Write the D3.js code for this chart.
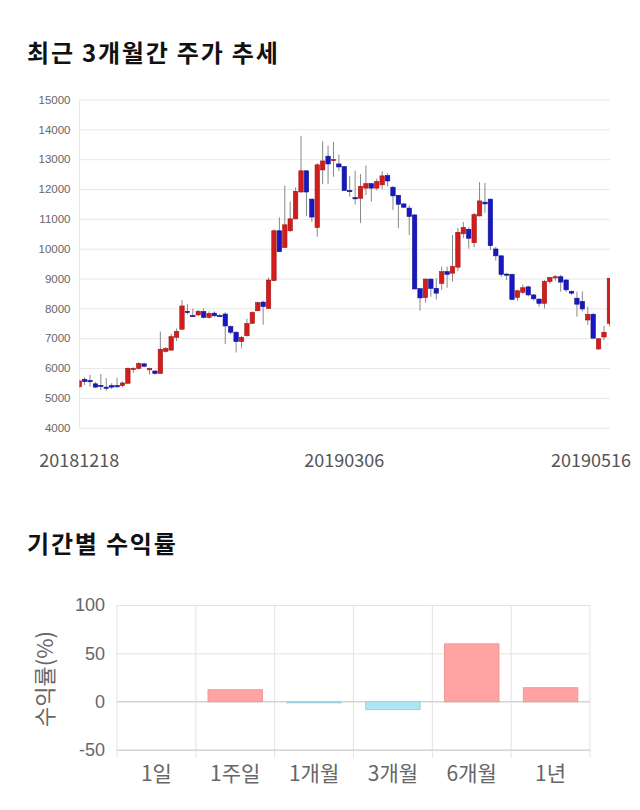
<!DOCTYPE html>
<html><head><meta charset="utf-8">
<script src="https://cdn.jsdelivr.net/npm/d3@7"></script>
<style>
body{margin:0;background:#fff;}
svg{display:block;}
</style></head>
<body>
<svg id="c" width="640" height="810"></svg>
<script>
// ---- candlestick data (20181218 .. 20190516, 99 trading days) ----
const opens  = [5370,5620,5580,5470,5420,5360,5410,5410,5410,5490,5990,5990,6140,5960,5900,5820,6560,6600,7030,7300,
  7900,7760,7780,7890,7700,7840,7760,7810,7390,7200,6890,7080,7500,7920,8210,8000,8930,10600,10040,10600,
  11000,11900,12610,11660,10710,12640,13100,12960,12840,12750,11950,11710,11690,12030,12180,12030,12140,12450,12060,11790,
  11500,11360,11130,8660,8360,8980,8670,8840,9230,9180,9380,10500,10650,10200,11100,11560,11660,9990,9760,9150,
  9140,8370,8540,8720,8450,8310,8170,8900,9040,9060,8950,8570,8340,8230,7610,7800,6640,7040,7500];
const highs  = [5620,5690,5770,5530,5800,5660,5490,5670,5550,6020,6030,6200,6180,6010,5920,7220,6700,7150,7320,8280,
  8140,8000,7950,8000,7900,7900,7810,7870,7430,7230,7080,7650,7900,8220,8250,9040,10650,11050,12120,11580,
  12050,13780,12620,11680,12860,13600,13450,13580,13150,12770,12440,12610,12500,12790,12200,12350,12600,12530,12100,11800,
  11520,11450,11160,8670,9010,9000,9010,9400,9400,10460,10700,10900,10720,11200,12230,12200,11680,10060,9780,9180,
  9160,8620,8800,8760,8480,8330,8950,9060,9120,9120,8980,8600,8560,8570,8060,7850,7010,7410,9010];
const lows   = [5340,5430,5380,5340,5260,5240,5300,5340,5360,5470,5840,5950,6020,5780,5780,5810,6520,6580,6900,7280,
  7800,7720,7740,7660,7650,7720,7730,6800,7130,6520,6680,7060,7480,7900,7450,7990,8920,9890,10020,10560,
  10990,11880,11100,10900,10400,12160,12170,12410,12600,11940,11740,11480,10860,11800,11580,11950,11990,12080,11300,10690,
  11360,10460,8640,7920,8190,8390,8300,8620,8690,8900,9250,10350,10000,10050,11080,11200,9950,9600,9050,8950,
  8270,8250,8480,8400,8260,8050,8000,8820,8920,8560,8550,8450,7720,7900,7440,6990,6600,6940,7400];
const closes = [5570,5550,5560,5360,5400,5350,5360,5400,5500,5990,5990,6150,6060,5980,5820,6630,6650,7050,7230,8080,
  7890,7745,7900,7700,7830,7750,7750,7410,7200,6890,7030,7490,7860,8190,8060,8950,10600,9900,10800,11000,
  11920,12610,11900,11060,12810,12940,12840,12990,12740,11950,11940,11700,12090,12180,12030,12250,12440,12270,11770,11490,
  11390,11080,8650,8350,8980,8670,8510,9230,9140,9400,10550,10710,10350,11140,11600,11500,10100,9760,9140,9140,
  8300,8590,8690,8450,8320,8170,8900,9030,9060,8880,8620,8510,8140,7980,7800,7000,6980,7200,9010];
const yTicks = [4000,5000,6000,7000,8000,9000,10000,11000,12000,13000,14000,15000];
const xLabels = [{i:0,t:"20181218"},{i:49,t:"20190306"},{i:98,t:"20190516"}];

// ---- returns data ----
const periods = ["1일","1주일","1개월","3개월","6개월","1년"];
const returns = [0,12.3,-1.2,-8.2,59.8,14.4];
const rTicks = [-50,0,50,100];

const svg = d3.select("#c");
const KR = "'Noto Sans CJK KR','Noto Sans',sans-serif";

// titles
svg.append("text").attr("x",27).attr("y",62).text("최근 3개월간 주가 추세")
  .attr("font-family",KR).attr("font-weight","bold").attr("font-size",24).attr("letter-spacing",1.8).attr("fill","#111");
svg.append("text").attr("x",27).attr("y",553).text("기간별 수익률")
  .attr("font-family",KR).attr("font-weight","bold").attr("font-size",24).attr("letter-spacing",1.8).attr("fill","#111");

// ---- candlestick chart ----
const L=79.5, R=610, T=99.5, B=427.7;
const x = d3.scaleLinear().domain([0,98]).range([79.2,609.4]);
const y = d3.scaleLinear().domain([4000,15000]).range([B,T]);

const gy = svg.append("g").attr("transform",`translate(${L},0)`)
  .call(d3.axisLeft(y).tickValues(yTicks).tickSize(-(R-L)).tickPadding(9).tickFormat(d3.format("d")));
gy.select(".domain").remove();
gy.selectAll(".tick line").attr("stroke","#e8e8e8");
gy.selectAll(".tick text").attr("font-family","'Liberation Sans',Arial,sans-serif").attr("font-size",11.5).attr("fill","#666");
svg.append("line").attr("x1",L).attr("x2",L).attr("y1",T).attr("y2",B).attr("stroke","#e8e8e8");

svg.append("clipPath").attr("id","clip").append("rect").attr("x",L).attr("y",T-10).attr("width",R-L).attr("height",B-T+20);
const cg = svg.append("g").attr("clip-path","url(#clip)");
const idx = d3.range(opens.length);
cg.selectAll("line.w").data(idx).join("line").attr("class","w")
  .attr("x1",i=>x(i)).attr("x2",i=>x(i)).attr("y1",i=>y(highs[i])).attr("y2",i=>y(lows[i]))
  .attr("stroke","#888").attr("stroke-width",1);
const bw = 4.4;
cg.selectAll("rect.b").data(idx).join("rect").attr("class","b")
  .attr("x",i=>x(i)-bw/2).attr("width",bw)
  .attr("y",i=>y(Math.max(opens[i],closes[i])))
  .attr("height",i=>Math.max(1.2,Math.abs(y(opens[i])-y(closes[i]))))
  .attr("fill",i=>closes[i]>=opens[i]?"#d21d1d":"#1717c4")
  .attr("stroke",i=>closes[i]>=opens[i]?"#a31313":"#11118c").attr("stroke-width",0.6);

const xl = svg.append("g");
xl.selectAll("text").data(xLabels).join("text")
  .attr("x",d=>x(d.i)).attr("y",467).attr("text-anchor","middle").text(d=>d.t)
  .attr("font-family",KR).attr("font-size",18).attr("fill","#555")
  .each(function(){
    const w=this.getComputedTextLength(); const cx=+this.getAttribute("x");
    if(cx+w/2>631){this.setAttribute("text-anchor","end");this.setAttribute("x",631);}
    if(cx-w/2<38){this.setAttribute("text-anchor","start");this.setAttribute("x",38);}
  });

// ---- returns bar chart ----
const L2=117, R2=590, T2=605, B2=750;
const xb = d3.scaleBand().domain(periods).range([L2,R2]);
const yb = d3.scaleLinear().domain([-50,100]).range([B2,T2]);
const g2 = svg.append("g");
const ya = g2.append("g").attr("transform",`translate(${L2},0)`)
  .call(d3.axisLeft(yb).tickValues(rTicks).tickSize(-(R2-L2)).tickPadding(12).tickFormat(d=>String(d)));
ya.select(".domain").remove();
ya.selectAll(".tick line").attr("stroke","#e3e3e3");
ya.selectAll(".tick text").attr("font-family","'Liberation Sans',Arial,sans-serif").attr("font-size",18).attr("fill","#666");
// vertical grid
g2.selectAll("line.v").data(periods.concat(["_end"])).join("line").attr("class","v")
  .attr("x1",(d,k)=>L2+k*xb.bandwidth()).attr("x2",(d,k)=>L2+k*xb.bandwidth())
  .attr("y1",T2).attr("y2",B2+8).attr("stroke","#e3e3e3");
g2.append("line").attr("x1",L2).attr("x2",R2).attr("y1",B2).attr("y2",B2).attr("stroke","#ccc");
g2.append("line").attr("x1",L2).attr("x2",R2).attr("y1",yb(0)).attr("y2",yb(0)).attr("stroke","#cfcfcf");
const barW = xb.bandwidth()*0.69;
g2.selectAll("rect.r").data(periods).join("rect").attr("class","r")
  .attr("x",(d)=>xb(d)+(xb.bandwidth()-barW)/2).attr("width",barW)
  .attr("y",(d,k)=>yb(Math.max(0,returns[k])))
  .attr("height",(d,k)=>Math.abs(yb(returns[k])-yb(0)))
  .attr("fill",(d,k)=>returns[k]>=0?"#ffa3a3":"#ade6f2")
  .attr("stroke",(d,k)=>returns[k]>=0?"#f39595":"#92d6e4").attr("stroke-width",1);
g2.selectAll("text.cx").data(periods).join("text").attr("class","cx")
  .attr("x",d=>xb(d)+xb.bandwidth()/2).attr("y",781).attr("text-anchor","middle").text(d=>d)
  .attr("font-family",KR).attr("font-size",21).attr("fill","#666");
g2.append("text").attr("transform","translate(53,679) rotate(-90)").attr("text-anchor","middle")
  .text("수익률(%)").attr("font-family",KR).attr("font-size",22).attr("fill","#666");
</script>
</body></html>
